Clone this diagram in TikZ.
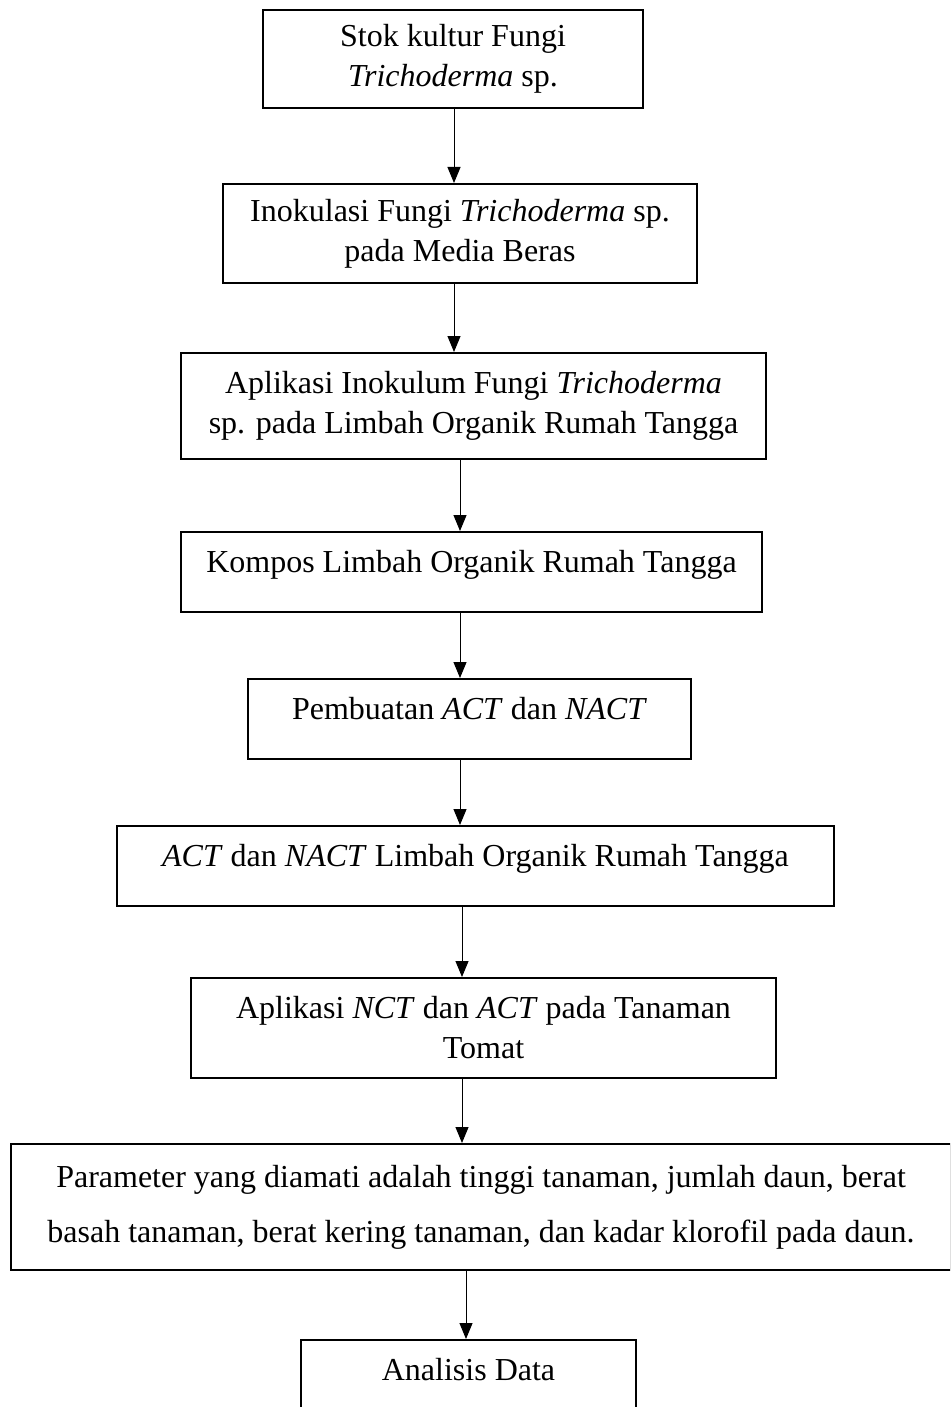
\documentclass[tikz,border=0pt]{standalone}
\usepackage{fontspec}
\setmainfont{Liberation Serif}
\usetikzlibrary{arrows.meta}
\tikzstyle{process}=[draw, line width=2pt, align=center, inner sep=0pt]
\tikzstyle{oneline}=[text height=23pt, text depth=23pt]
\tikzstyle{flow}=[-{Triangle[length=16pt,width=13pt]}, line width=1pt]

\begin{document}
\begin{tikzpicture}[x=1pt,y=1pt,font=\fontsize{32}{40}\selectfont]
  \useasboundingbox (0,0) rectangle (950,-1407);
  \clip (0,0) rectangle (950,-1407);

  \draw (453,-59) node[process,minimum width=380pt,minimum height=98pt] (B1) {Stok kultur Fungi\\\textit{Trichoderma} sp.};
  \draw (460,-233.5) node[process,minimum width=474pt,minimum height=99pt] (B2) {Inokulasi Fungi \textit{Trichoderma} sp.\\pada Media Beras};
  \draw (473.5,-406) node[process,minimum width=585pt,minimum height=106pt] (B3) {Aplikasi Inokulum Fungi \textit{Trichoderma}\\sp. pada Limbah Organik Rumah Tangga};
  \draw (471.5,-572) node[process,oneline,minimum width=581pt,minimum height=80pt] (B4) {Kompos Limbah Organik Rumah Tangga};
  \draw (469.5,-719) node[process,oneline,minimum width=443pt,minimum height=80pt] (B5) {Pembuatan \textit{ACT} dan \textit{NACT}};
  \draw (475.5,-866) node[process,oneline,minimum width=717pt,minimum height=80pt] (B6) {\textit{ACT} dan \textit{NACT} Limbah Organik Rumah Tangga};
  \draw (483.5,-1028) node[process,minimum width=585pt,minimum height=100pt] (B7) {Aplikasi \textit{NCT} dan \textit{ACT} pada Tanaman\\Tomat};
  \draw (481,-1207) node[process,minimum width=940pt,minimum height=126pt] (B8) {Parameter yang diamati adalah tinggi tanaman, jumlah daun, berat\\[15pt]basah tanaman, berat kering tanaman, dan kadar klorofil pada daun.};
  \draw (468.5,-1380) node[process,oneline,minimum width=335pt,minimum height=80pt] (B9) {Analisis Data};

  %% Arrow lines
  \coordinate (ax1) at (454,0);
  \coordinate (ax2) at (460,0);
  \coordinate (ax3) at (462,0);
  \coordinate (ax4) at (466,0);
  \draw[flow] (B1.south -| ax1) -- (B2.north -| ax1);
  \draw[flow] (B2.south -| ax1) -- (B3.north -| ax1);
  \draw[flow] (B3.south -| ax2) -- (B4.north -| ax2);
  \draw[flow] (B4.south -| ax2) -- (B5.north -| ax2);
  \draw[flow] (B5.south -| ax2) -- (B6.north -| ax2);
  \draw[flow] (B6.south -| ax3) -- (B7.north -| ax3);
  \draw[flow] (B7.south -| ax3) -- (B8.north -| ax3);
  \draw[flow] (B8.south -| ax4) -- (B9.north -| ax4);
\end{tikzpicture}
\end{document}
